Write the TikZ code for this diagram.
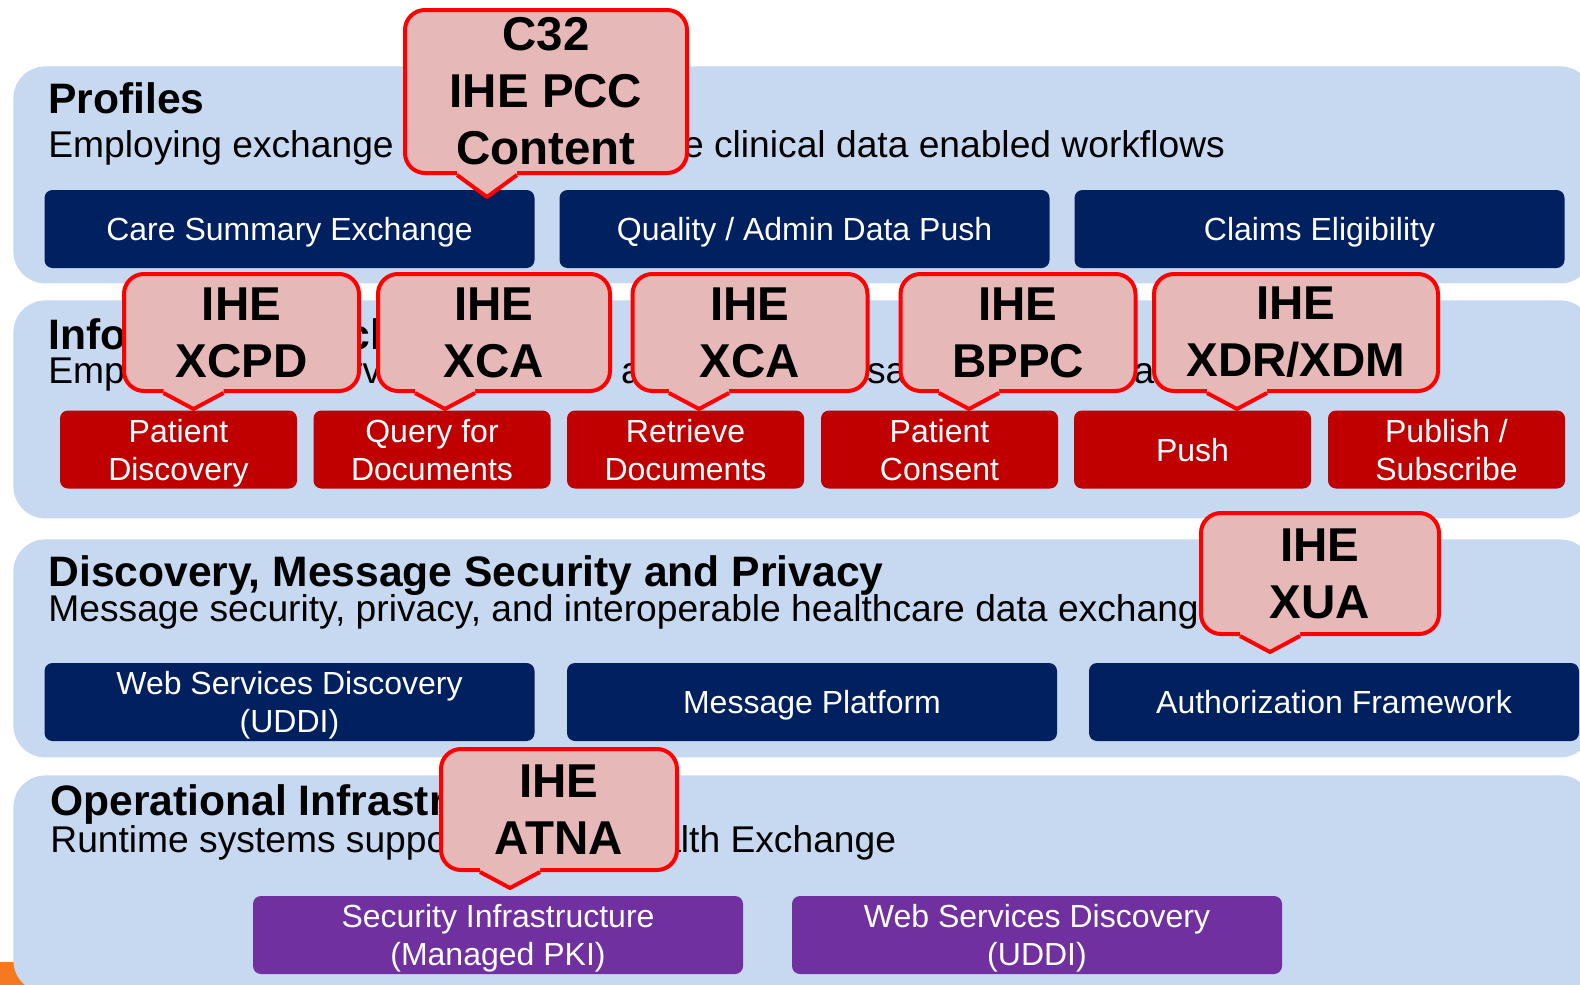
\documentclass[tikz,border=0pt]{standalone}
\usepackage{fontspec}
\setmainfont{Liberation Sans}
\usetikzlibrary{calc}
\definecolor{layerBlue}{RGB}{198,217,241}
\definecolor{boxNavy}{RGB}{0,32,96}
\definecolor{boxRed}{RGB}{192,0,0}
\definecolor{boxPurple}{RGB}{112,48,160}
\definecolor{calloutPink}{RGB}{230,185,184}
\definecolor{calloutRed}{RGB}{255,0,0}
\definecolor{cornerOrange}{RGB}{244,121,32}

\tikzset{
  layer/.style={rounded corners=16pt,fill=layerBlue,minimum width=789.5pt,anchor=north west,inner sep=0pt},
  layertitle/.style={anchor=base west,inner sep=0pt,font=\bfseries\fontsize{21.3}{25}\selectfont},
  layersub/.style={anchor=base west,inner sep=0pt,font=\fontsize{18.6}{22}\selectfont},
  stdbox/.style={rounded corners=4pt,text=white,align=center,inner sep=0pt,minimum height=39pt,text depth=0pt,font=\fontsize{16}{19}\selectfont},
  navybox/.style={stdbox,fill=boxNavy,minimum width=245pt},
  redbox/.style={stdbox,fill=boxRed,minimum width=118.5pt},
  purplebox/.style={stdbox,fill=boxPurple,minimum width=245pt},
  callout/.style={rounded corners=10pt,fill=calloutPink,draw=calloutRed,line width=2pt,align=center,inner sep=0pt,minimum width=117.5pt,minimum height=58.5pt,font=\bfseries\fontsize{23.75}{28.5}\selectfont},
}

\begin{document}
\begin{tikzpicture}[x=0.5pt,y=-0.5pt]
\path[use as bounding box] (0,0) rectangle (1580,985);
\fill[cornerOrange] (0,962) rectangle (40,985);

% layers
\node[layer,minimum height=108.5pt] (profiles) at (13,66) {};
\node[layer,minimum height=109pt] (infoex) at (13,300) {};
\node[layer,minimum height=109pt] (discsec) at (13,539) {};
\node[layer,minimum height=108.5pt] (opinfra) at (13,775) {};

\node[layertitle] (proftitle) at (48,113) {Profiles};
\node[layersub] (profsub) at (48,157) {Employing exchange services to enable clinical data enabled workflows};
\node[layertitle] (infotitle) at (48,349) {Information Exchange};
\node[layersub] (infosub) at (48,383) {Employing web services to enable a series of transactions across a network};
\node[layertitle] (disctitle) at (48,586) {Discovery, Message Security and Privacy};
\node[layersub] (discsub) at (48,621) {Message security, privacy, and interoperable healthcare data exchange};
\node[layertitle] (optitle) at (50,815) {Operational Infrastructure};
\node[layersub] (opsub) at (50,852) {Runtime systems supporting the eHealth Exchange};

% boxes
\node[navybox] (care) at (289.5,229) {Care Summary Exchange};
\node[navybox] (quality) at (804.5,229) {Quality / Admin Data Push};
\node[navybox] (claims) at (1319.5,229) {Claims Eligibility};

\node[redbox] (patdisc) at (178.5,449.5) {Patient\\Discovery};
\node[redbox] (querydocs) at (432,449.5) {Query for\\Documents};
\node[redbox] (retrdocs) at (685.5,449.5) {Retrieve\\Documents};
\node[redbox] (consent) at (939.5,449.5) {Patient\\Consent};
\node[redbox] (push) at (1192.5,449.5) {Push};
\node[redbox] (pubsub) at (1446.5,449.5) {Publish /\\Subscribe};

\node[navybox] (uddi) at (289.5,702) {Web Services Discovery\\(UDDI)};
\node[navybox] (msgplat) at (812,702) {Message Platform};
\node[navybox] (authfw) at (1334,702) {Authorization Framework};

\node[purplebox] (secinfra) at (498,935) {Security Infrastructure\\(Managed PKI)};
\node[purplebox] (uddiops) at (1037,935) {Web Services Discovery\\(UDDI)};

% callouts
\node[callout,minimum width=141pt,minimum height=81.5pt] (c32) at (546,91.5) {C32\\IHE PCC\\Content};
\node[callout] (xcpd) at (241.5,332.5) {IHE\\XCPD};
\node[callout,minimum width=116pt] (xcaq) at (494,332.5) {IHE\\XCA};
\node[callout] (xcar) at (750,332.5) {IHE\\XCA};
\node[callout] (bppc) at (1018,332.5) {IHE\\BPPC};
\node[callout,minimum width=142pt] (xdr) at (1296,332.5) {IHE\\XDR/XDM};
\node[callout,minimum width=119pt,minimum height=60.5pt] (xua) at (1320,573.5) {IHE\\XUA};
\node[callout,minimum width=118pt,minimum height=60.5pt] (atna) at (559,809.5) {IHE\\ATNA};

\foreach \c/\dx/\dy in {c32/-59/22,xcpd/-48/16,xcaq/-49/16,xcar/-51/16,bppc/-49/16,xdr/-59/16,xua/-50/16,atna/-49/16}{
  \coordinate (\c-tip) at ($(\c.south)+(\dx,\dy)$);
  \fill[calloutPink] ($(\c.south)+(\dx-30,-6)$) -- ($(\c.south)+(\dx-30,0)$) -- (\c-tip) -- ($(\c.south)+(\dx+30,0)$) -- ($(\c.south)+(\dx+30,-6)$) -- cycle;
  \draw[calloutRed,line width=2pt,line join=round] ($(\c.south)+(\dx-30,0)$) -- (\c-tip) -- ($(\c.south)+(\dx+30,0)$);
}
\end{tikzpicture}
\end{document}
